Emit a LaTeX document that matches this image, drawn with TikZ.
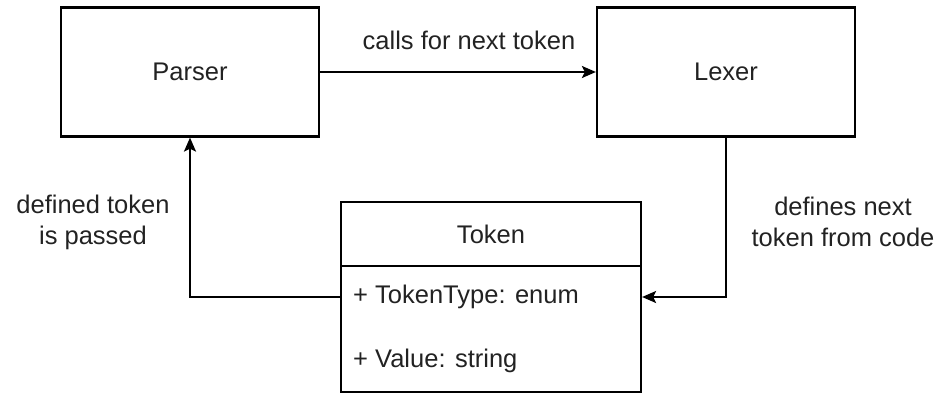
\documentclass[tikz,border=0pt]{standalone}
\usepackage{fontspec}
\setmainfont{Liberation Sans}
\usetikzlibrary{arrows.meta}
\definecolor{txt}{HTML}{222222}
\begin{document}
\begin{tikzpicture}[x=1pt,y=-1pt,
  every node/.style={font=\fontsize{25.5}{31}\selectfont, text=txt},
  box/.style={draw=black, line width=2.2pt, minimum width=258pt, minimum height=129pt, inner sep=0pt},
  part/.style={draw=black, line width=2.2pt, minimum width=300pt, inner sep=0pt},
  conn/.style={line width=2.2pt, draw=black, -{Stealth[length=14pt,width=12pt,inset=3pt]}},
  lbl/.style={align=center, inner sep=0pt}
]
\useasboundingbox (0,0) rectangle (941,395);
\node[box] (parser) at (190,72) {Parser};
\node[box] (lexer) at (726,72) {Lexer};
\node[part, minimum height=64pt] (head) at (491,234) {Token};
\node[part, minimum height=126pt] (body) at (491,329) {};
\node[anchor=west, inner sep=0pt] (attr1) at (353,297) {+ TokenType: enum};
\node[anchor=west, inner sep=0pt] (attr2) at (353,361) {+ Value: string};
\node[lbl] (l1) at (469,40) {calls for next token};
\node[lbl] (l2) at (93,222) {defined token\\is passed};
\node[lbl] (l3) at (843,222) {defines next\\token from code};
\draw[conn] (parser.east) -- (lexer.west);
\draw[conn] (body.west |- attr1) -| (parser.south);
\draw[conn] (lexer.south) |- (body.east |- attr1);
\end{tikzpicture}
\end{document}
